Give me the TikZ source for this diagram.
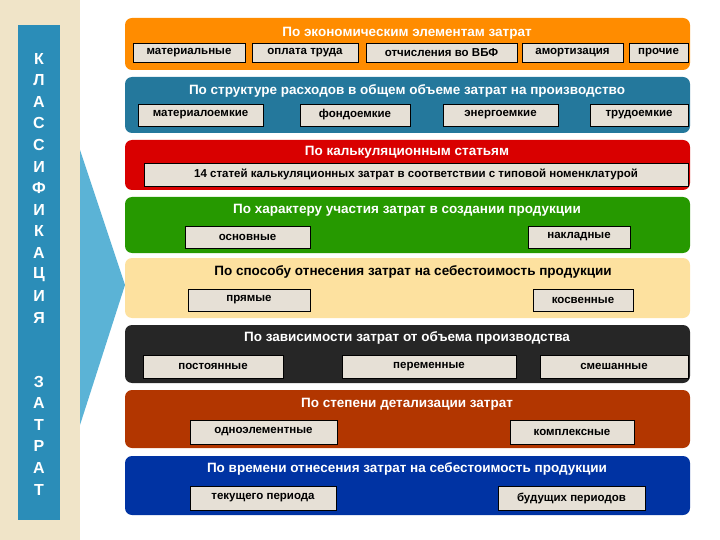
\documentclass[tikz,border=0pt]{standalone}
\usepackage{fontspec}
\setmainfont{Liberation Sans}
\definecolor{beig}{HTML}{F0E4C8}
\definecolor{barc}{HTML}{2B8DB8}
\definecolor{arrc}{HTML}{5BB3D6}
\definecolor{itf}{HTML}{E6E0D6}
\newcommand\itfont{\fontsize{11.5}{13}\selectfont\bfseries}
\begin{document}
\begin{tikzpicture}[x=1pt,y=-1pt,
 band/.style={rounded corners=7pt},
 ttl/.style={text=white,font=\bfseries\fontsize{13.5}{15}\selectfont,inner sep=0pt},
 item/.style={draw=black,fill=itf,inner sep=0pt,anchor=center},
 letter/.style={text=white,font=\bfseries\fontsize{16}{18}\selectfont}]
\useasboundingbox (0,0) rectangle (720,540);
\fill[beig] (0,0) rectangle (80,540);
\fill[barc] (18,25) rectangle (60,520);
\fill[arrc] (80,150) -- (125,285) -- (80,425) -- cycle;
\foreach \l [count=\i] in {К,Л,А,С,С,И,Ф,И,К,А,Ц,И,Я}
  \node[letter] (l\i) at (39,{37+\i*21.6}) {\l};
\foreach \l [count=\i] in {З,А,Т,Р,А,Т}
  \node[letter] (z\i) at (39,{360+\i*21.6}) {\l};
\newcommand\mkband[6]{%
 \fill[band,#3] (125,#1) rectangle (690,#2);
 \node[ttl] (#5) at (407,#4) {#6};}
\mkband{18}{70}{orange!90!yellow}{33}{t1}{По экономическим элементам затрат}
\mkband{77}{133}{barc!85!black}{91}{t2}{По структуре расходов в общем объеме затрат на производство}
\mkband{140}{190}{red!85!black}{152}{t3}{По калькуляционным статьям}
\mkband{197}{253}{green!50!black!80!lime}{210}{t4}{По характеру участия затрат в создании продукции}
\fill[band,yellow!40!orange!35!white] (125,258) rectangle (690,318);
\node[font=\bfseries\fontsize{13.5}{15}\selectfont,inner sep=0pt] (t5) at (413,272) {По способу отнесения затрат на себестоимость продукции};
\mkband{325}{383}{black!85}{338}{t6}{По зависимости затрат от объема производства}
\mkband{390}{448}{orange!60!red!70!black}{404}{t7}{По степени детализации затрат}
\mkband{456}{515}{blue!55!black!80!cyan}{469}{t8}{По времени отнесения затрат на себестоимость продукции}
\newcommand\itm[6]{%
 \fill[itf,draw=black] (#2,#1) rectangle (#3,#4);
 \node[inner sep=0pt] (#5) at ({(#2+#3)/2},{(#1+#4)/2}) {\itfont #6};}
\itm{43}{133}{245}{62}{a1}{материальные}
\itm{43}{252}{358}{62}{a2}{оплата труда}
\itm{43}{366}{517}{62}{a3}{отчисления во ВБФ}
\itm{43}{522}{623}{62}{a4}{амортизация}
\itm{43}{629}{688}{62}{a5}{прочие}
\itm{104}{138}{263}{126}{b1}{материалоемкие}
\itm{104}{300}{410}{126}{b2}{фондоемкие}
\itm{104}{443}{558}{126}{b3}{энергоемкие}
\itm{104}{590}{688}{126}{b4}{трудоемкие}
\itm{163}{144}{688}{186}{c1}{14 статей калькуляционных затрат в соответствии с типовой номенклатурой}
\itm{226}{185}{310}{248}{d1}{основные}
\itm{226}{528}{630}{248}{d2}{накладные}
\itm{289}{188}{310}{311}{e1}{прямые}
\itm{289}{533}{633}{311}{e2}{косвенные}
\itm{355}{143}{283}{378}{f1}{постоянные}
\itm{355}{342}{516}{378}{f2}{переменные}
\itm{355}{540}{688}{378}{f3}{смешанные}
\itm{420}{190}{337}{444}{g1}{одноэлементные}
\itm{420}{510}{634}{444}{g2}{комплексные}
\itm{486}{190}{336}{510}{h1}{текущего периода}
\itm{486}{498}{645}{510}{h2}{будущих периодов}
\end{tikzpicture}
\end{document}
